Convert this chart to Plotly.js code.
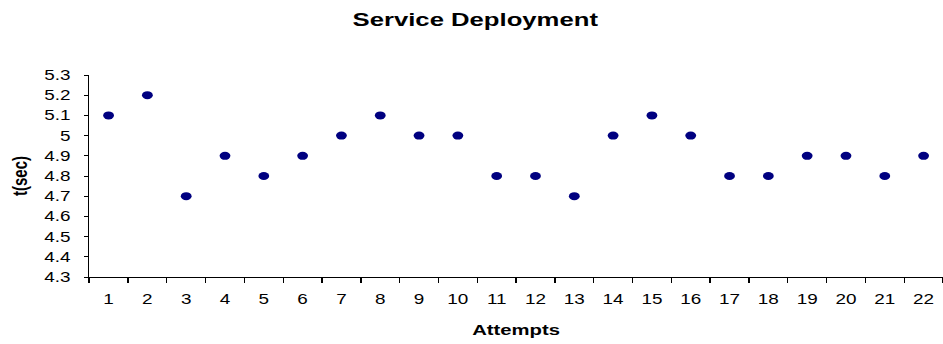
<!DOCTYPE html>
<html>
<head>
<meta charset="utf-8">
<script src="https://cdn.plot.ly/plotly-3.0.1.min.js"></script>
<style>
html,body{margin:0;padding:0;background:#fff;overflow:hidden;}
#wrap{width:943px;height:344px;overflow:hidden;}
#chart{width:698px;height:344px;transform:scaleX(1.351);transform-origin:0 0;}
</style>
</head>
<body>
<div id="wrap"><div id="chart"></div></div>
<script>
var attempts = ["1","2","3","4","5","6","7","8","9","10","11","12","13","14","15","16","17","18","19","20","21","22"];
var times = [5.1, 5.2, 4.7, 4.9, 4.8, 4.9, 5.0, 5.1, 5.0, 5.0, 4.8, 4.8, 4.7, 5.0, 5.1, 5.0, 4.8, 4.8, 4.9, 4.9, 4.8, 4.9];
var yTickVals = [4.3, 4.4, 4.5, 4.6, 4.7, 4.8, 4.9, 5.0, 5.1, 5.2, 5.3];
var yTickText = ["4.3","4.4","4.5","4.6","4.7","4.8","4.9","5","5.1","5.2","5.3"];

var trace = {
  x: attempts, y: times, type: "scatter", mode: "markers",
  marker: {color: "#000080", size: 8, line: {width: 0}},
  hoverinfo: "none", cliponaxis: false
};
var font = "Arial, 'Liberation Sans', sans-serif";
var layout = {
  width: 698, height: 344,
  margin: {l: 65.5, r: 0, t: 75, b: 67},
  paper_bgcolor: "#fff", plot_bgcolor: "#fff",
  showlegend: false,
  font: {family: font, color: "#000", size: 14},
  title: {text: "<b>Service Deployment</b>", font: {family: font, size: 19, color: "#000"}, x: 0.504, xanchor: "center", y: 0.945, yanchor: "middle"},
  xaxis: {
    type: "category", tickson: "boundaries", ticks: "outside", ticklen: 5, tickcolor: "#000", tickwidth: 1,
    showline: true, linecolor: "#000", linewidth: 1, showgrid: false, zeroline: false,
    range: [-0.5, 21.5], tickfont: {family: font, size: 14, color: "#000"}, ticklabelstandoff: 9,
    title: {text: "<b>Attempts</b>", font: {family: font, size: 15, color: "#000"}, standoff: 18}
  },
  yaxis: {
    range: [4.3, 5.3], tickvals: yTickVals, ticktext: yTickText,
    ticks: "outside", ticklen: 3, tickcolor: "#000", tickwidth: 1,
    showline: true, linecolor: "#000", linewidth: 1, showgrid: false, zeroline: false,
    tickfont: {family: font, size: 14, color: "#000"}, ticklabelstandoff: 7,
    title: {text: "<b>t(sec)</b>", font: {family: font, size: 15, color: "#000"}, standoff: 8}
  }
};
Plotly.newPlot("chart", [trace], layout, {staticPlot: true, displayModeBar: false});
</script>
</body>
</html>
